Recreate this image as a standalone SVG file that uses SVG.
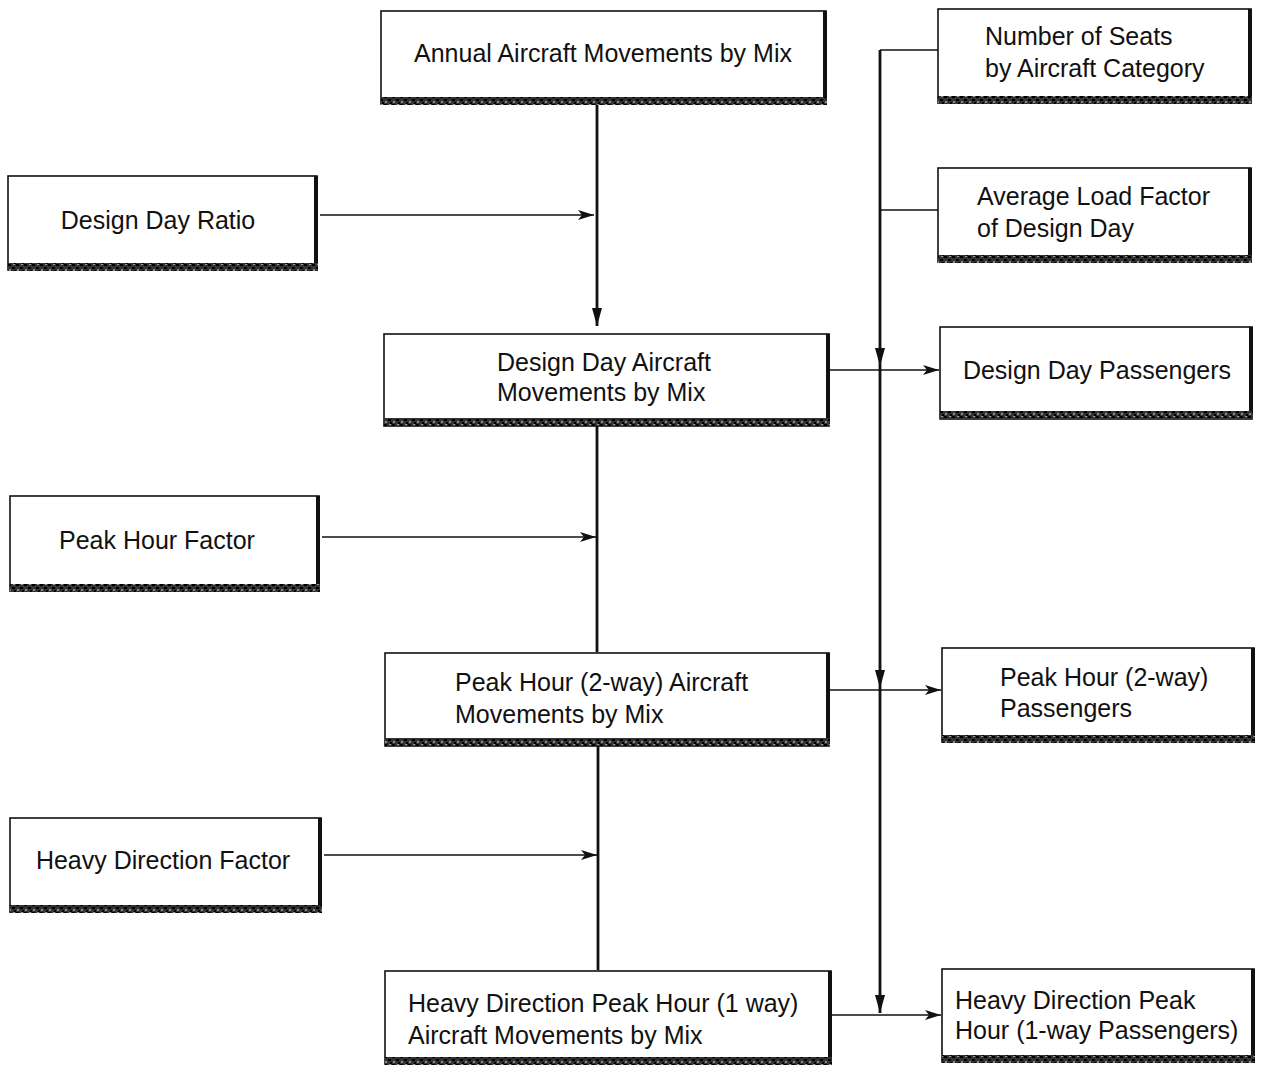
<svg xmlns="http://www.w3.org/2000/svg" width="1263" height="1068" viewBox="0 0 1263 1068">
<defs>
<style>
.box{fill:#fff;stroke:#111;stroke-width:1.6}
.rb{stroke:#111;stroke-width:4}
.band{fill:url(#speck)}
.t{font-family:"Liberation Sans",Arial,sans-serif;font-size:25px;fill:#111}
.c{text-anchor:middle}
.ln{stroke:#111;stroke-width:1.6;fill:none}
.lt{stroke:#111;stroke-width:2.8;fill:none}
</style>
<pattern id="speck" width="8" height="8" patternUnits="userSpaceOnUse">
<rect width="8" height="8" fill="#333"/>
<rect x="0" y="0" width="3" height="2" fill="#000"/>
<rect x="4" y="3" width="3" height="2" fill="#000"/>
<rect x="1" y="5" width="2" height="2" fill="#888"/>
<rect x="5" y="0" width="2" height="1" fill="#999"/>
<rect x="6" y="6" width="2" height="2" fill="#000"/>
</pattern>
<marker id="ah" markerWidth="18" markerHeight="12" refX="16" refY="6" orient="auto" markerUnits="userSpaceOnUse">
<path d="M0,1 L16,6 L0,11 L4,6 Z" fill="#111"/>
</marker>
<marker id="ad" markerWidth="12" markerHeight="20" refX="6" refY="18" orient="0" markerUnits="userSpaceOnUse">
<path d="M1,0 L6,18 L11,0 Z" fill="#111"/>
</marker>
</defs>

<g id="connectors">
<!-- central spine -->
<line class="lt" x1="597" y1="104" x2="597" y2="326" marker-end="url(#ad)"/>
<line class="lt" x1="597" y1="426" x2="597" y2="652"/>
<line class="lt" x1="598" y1="746" x2="598" y2="970"/>
<!-- factor inputs -->
<line class="ln" x1="320" y1="215" x2="594" y2="215" marker-end="url(#ah)"/>
<line class="ln" x1="322" y1="537" x2="596" y2="537" marker-end="url(#ah)"/>
<line class="ln" x1="324" y1="855" x2="597" y2="855" marker-end="url(#ah)"/>
<!-- right spine -->
<line class="ln" x1="880" y1="50" x2="938" y2="50"/>
<line class="ln" x1="880" y1="210" x2="938" y2="210"/>
<line class="lt" x1="880" y1="50" x2="880" y2="366" marker-end="url(#ad)"/>
<line class="lt" x1="880" y1="366" x2="880" y2="688" marker-end="url(#ad)"/>
<line class="lt" x1="880" y1="688" x2="880" y2="1013" marker-end="url(#ad)"/>
<!-- outputs -->
<line class="ln" x1="830" y1="370" x2="939" y2="370" marker-end="url(#ah)"/>
<line class="ln" x1="830" y1="690" x2="941" y2="690" marker-end="url(#ah)"/>
<line class="ln" x1="832" y1="1015" x2="941" y2="1015" marker-end="url(#ah)"/>
</g>

<g id="n-annual">
<rect class="box" x="381" y="11" width="445" height="93"/>
<line class="rb" x1="825" y1="11" x2="825" y2="104"/>
<rect class="band" x="381" y="97" width="446" height="8"/>
<text class="t c" x="603" y="62">Annual Aircraft Movements by Mix</text>
</g>

<g id="n-seats">
<rect class="box" x="938" y="9" width="313" height="94"/>
<line class="rb" x1="1250" y1="9" x2="1250" y2="103"/>
<rect class="band" x="938" y="96" width="314" height="8"/>
<text class="t" x="985" y="45">Number of Seats</text>
<text class="t" x="985" y="77">by Aircraft Category</text>
</g>

<g id="n-load">
<rect class="box" x="938" y="168" width="313" height="94"/>
<line class="rb" x1="1250" y1="168" x2="1250" y2="262"/>
<rect class="band" x="938" y="255" width="314" height="8"/>
<text class="t" x="977" y="205">Average Load Factor</text>
<text class="t" x="977" y="237">of Design Day</text>
</g>

<g id="n-ddratio">
<rect class="box" x="8" y="176" width="309" height="94"/>
<line class="rb" x1="316" y1="176" x2="316" y2="270"/>
<rect class="band" x="8" y="263" width="310" height="8"/>
<text class="t c" x="158" y="229">Design Day Ratio</text>
</g>

<g id="n-ddmov">
<rect class="box" x="384" y="334" width="445" height="92"/>
<line class="rb" x1="828" y1="334" x2="828" y2="426"/>
<rect class="band" x="384" y="418" width="446" height="8"/>
<text class="t" x="497" y="371">Design Day Aircraft</text>
<text class="t" x="497" y="401">Movements by Mix</text>
</g>

<g id="n-ddpax">
<rect class="box" x="940" y="327" width="312" height="92"/>
<line class="rb" x1="1251" y1="327" x2="1251" y2="419"/>
<rect class="band" x="940" y="411" width="313" height="8"/>
<text class="t c" x="1097" y="379">Design Day Passengers</text>
</g>

<g id="n-phf">
<rect class="box" x="10" y="496" width="309" height="95"/>
<line class="rb" x1="318" y1="496" x2="318" y2="591"/>
<rect class="band" x="10" y="584" width="310" height="8"/>
<text class="t c" x="157" y="549">Peak Hour Factor</text>
</g>

<g id="n-ph2mov">
<rect class="box" x="385" y="653" width="444" height="93"/>
<line class="rb" x1="828" y1="653" x2="828" y2="746"/>
<rect class="band" x="385" y="738" width="445" height="8"/>
<text class="t" x="455" y="691">Peak Hour (2-way) Aircraft</text>
<text class="t" x="455" y="723">Movements by Mix</text>
</g>

<g id="n-ph2pax">
<rect class="box" x="942" y="648" width="312" height="94"/>
<line class="rb" x1="1253" y1="648" x2="1253" y2="742"/>
<rect class="band" x="942" y="735" width="313" height="8"/>
<text class="t" x="1000" y="686">Peak Hour (2-way)</text>
<text class="t" x="1000" y="717">Passengers</text>
</g>

<g id="n-hdf">
<rect class="box" x="10" y="818" width="311" height="94"/>
<line class="rb" x1="320" y1="818" x2="320" y2="912"/>
<rect class="band" x="10" y="905" width="312" height="8"/>
<text class="t c" x="163" y="869">Heavy Direction Factor</text>
</g>

<g id="n-hdmov">
<rect class="box" x="385" y="971" width="446" height="93"/>
<line class="rb" x1="830" y1="971" x2="830" y2="1064"/>
<rect class="band" x="385" y="1057" width="447" height="8"/>
<text class="t" x="408" y="1012">Heavy Direction Peak Hour (1 way)</text>
<text class="t" x="408" y="1044">Aircraft Movements by Mix</text>
</g>

<g id="n-hdpax">
<rect class="box" x="942" y="969" width="312" height="93"/>
<line class="rb" x1="1253" y1="969" x2="1253" y2="1062"/>
<rect class="band" x="942" y="1055" width="313" height="8"/>
<text class="t" x="955" y="1009">Heavy Direction Peak</text>
<text class="t" x="955" y="1039">Hour (1-way Passengers)</text>
</g>
</svg>
